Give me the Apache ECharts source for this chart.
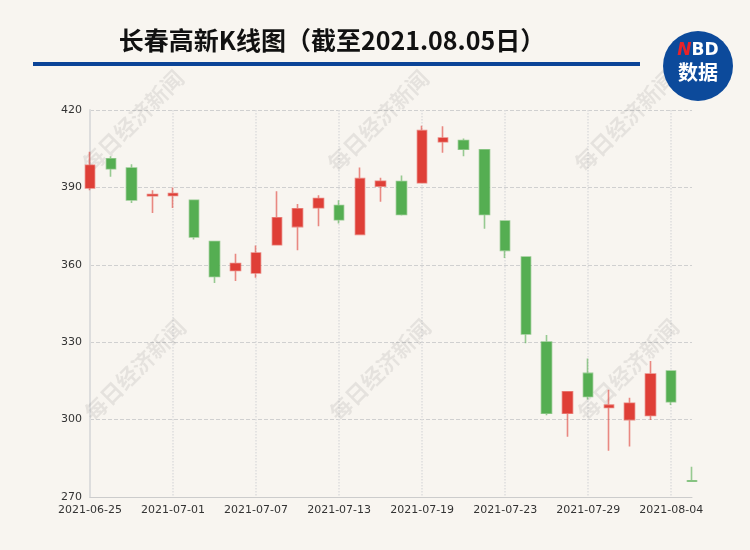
<!DOCTYPE html>
<html>
<head>
<meta charset="utf-8">
<script src="https://cdn.jsdelivr.net/npm/echarts@6/dist/echarts.min.js"></script>
<style>
html,body{margin:0;padding:0;background:#f8f5f0;}
#main{width:750px;height:550px;}
</style>
</head>
<body>
<div id="main"></div>
<script>
var dates = ['2021-06-25','2021-06-28','2021-06-29','2021-06-30','2021-07-01','2021-07-02','2021-07-05','2021-07-06','2021-07-07','2021-07-08','2021-07-09','2021-07-12','2021-07-13','2021-07-14','2021-07-15','2021-07-16','2021-07-19','2021-07-20','2021-07-21','2021-07-22','2021-07-23','2021-07-26','2021-07-27','2021-07-28','2021-07-29','2021-07-30','2021-08-02','2021-08-03','2021-08-04','2021-08-05'];
var openValues  = [389.8,401.1,397.5,386.8,386.9,385.0,369.0,357.8,356.8,367.8,374.8,382.1,383.0,371.8,390.5,392.3,391.8,407.7,408.2,404.6,377.0,363.0,330.1,302.5,317.9,304.7,300.0,301.6,318.8,276.3];
var closeValues = [398.6,397.2,385.1,387.2,387.6,370.8,355.5,360.5,364.6,378.2,381.7,385.7,377.5,393.4,392.4,379.5,412.0,409.1,404.8,379.5,365.6,333.2,302.5,310.8,309.0,305.6,306.3,317.7,306.9,276.1];
var lowValues   = [388.9,394.1,384.0,380.1,382.0,369.8,352.9,353.7,355.0,367.6,365.6,374.9,376.0,371.6,384.4,379.1,391.6,403.4,402.1,374.0,362.6,329.6,301.7,293.4,307.8,287.9,289.6,299.8,305.7,276.1];
var highValues  = [403.8,402.1,399.0,388.9,390.0,385.1,369.1,364.3,367.5,388.5,383.6,387.0,385.0,397.7,393.7,394.6,413.9,413.7,409.0,404.8,377.2,363.2,332.8,311.0,323.7,311.6,308.5,322.7,319.0,281.7];
var yTicks = [270,300,330,360,390,420];

var kData = dates.map(function(d,i){ return [openValues[i], closeValues[i], lowValues[i], highValues[i]]; });

var wmPos = [[133,121],[378,121],[625,121],[135,370],[380,370],[628,370]];
var watermarks = wmPos.map(function(p){
  return {
    type:'text', x:p[0], y:p[1], rotation:Math.PI/4, z:1, silent:true,
    style:{text:'每日经济新闻', fill:'rgba(0,0,0,0.075)', font:'bold 22px "Noto Sans CJK SC"', align:'center', verticalAlign:'middle'}
  };
});

var chart = echarts.init(document.getElementById('main'));
chart.setOption({
  animation:false,
  backgroundColor:'#f8f5f0',
  grid:{left:90, right:58, top:110, bottom:53},
  xAxis:{
    type:'category', data:dates, boundaryGap:false,
    axisLine:{lineStyle:{color:'#cccccc'}},
    axisTick:{show:false},
    axisLabel:{interval:3, color:'#333', fontSize:11, fontFamily:'DejaVu Sans', margin:8},
    splitLine:{show:true, interval:3, lineStyle:{color:'#dddddd', type:'dotted', width:1.5}}
  },
  yAxis:{
    type:'value', min:270, max:420, interval:30,
    axisLine:{show:true, lineStyle:{color:'#dddddd', width:2}},
    axisTick:{show:false},
    axisLabel:{color:'#333', fontSize:11, fontFamily:'DejaVu Sans', margin:8},
    splitLine:{lineStyle:{color:'#d0d0d0', type:'dashed'}}
  },
  series:[{
    type:'candlestick', data:kData, barWidth:10, z:3,
    itemStyle:{
      color:'#df3f37', color0:'#55ae52',
      borderColor:'rgba(223,63,55,0.6)', borderColor0:'rgba(85,174,82,0.6)',
      borderWidth:1.6
    }
  }],
  graphic: watermarks.concat([
    {type:'text', x:332, y:40, z:10,
     style:{text:'长春高新K线图（截至2021.08.05日）', fill:'#111', font:'bold 25px "Noto Sans CJK SC"', align:'center', verticalAlign:'middle'}},
    {type:'rect', z:10, shape:{x:33, y:62, width:607, height:4}, style:{fill:'#0b4497'}},
    {type:'circle', z:10, shape:{cx:698, cy:66, r:35}, style:{fill:'#0c4a9b'}},
    {type:'text', x:698, y:51, z:11,
     style:{text:'{r|N}{w|BD}', align:'center', verticalAlign:'middle',
       rich:{r:{fill:'#e8232a', font:'italic bold 17px "DejaVu Sans"'}, w:{fill:'#ffffff', font:'bold 17px "DejaVu Sans"'}}}},
    {type:'text', x:698, y:72, z:11,
     style:{text:'数据', fill:'#ffffff', font:'bold 20px "Noto Sans CJK SC"', align:'center', verticalAlign:'middle'}}
  ])
});
</script>
</body>
</html>
